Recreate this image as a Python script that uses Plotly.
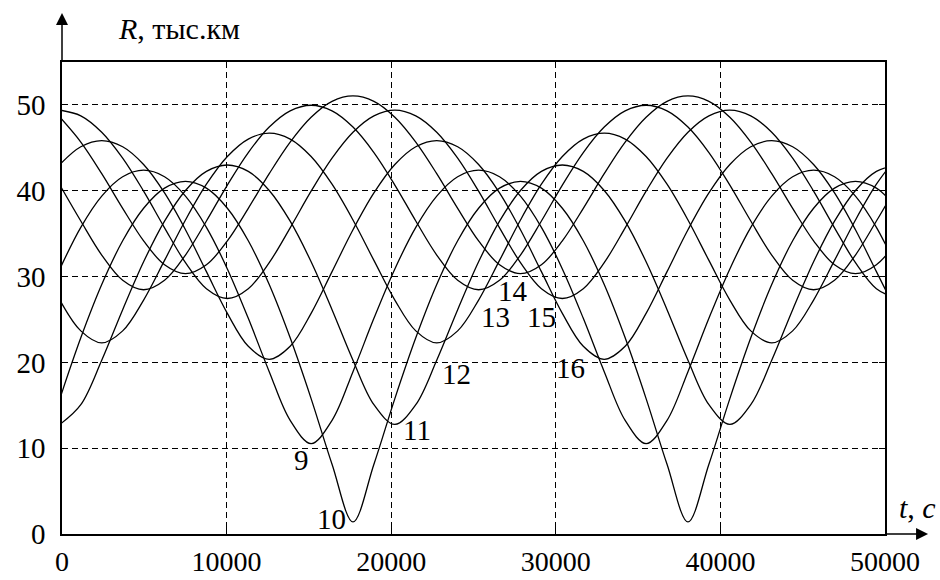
import plotly.graph_objects as go

# Sampling instants, s
t_s = [-130, 1142, 2414, 3686, 4958, 6230, 7502, 8774, 10046, 11318,
       12590, 13862, 15134, 16406, 17678, 18950, 20222, 21494, 22766, 24038,
       25310, 26582, 27854, 29126, 30398, 31670, 32942, 34214, 35486, 36758,
       38030, 39302, 40574, 41846, 43118, 44390, 45662, 46934, 48206, 49478,
       50750]

# Range R, thousand km, for each object
r9 = [30.89, 35.73, 39.37, 41.63, 42.39, 41.63, 39.37, 35.73, 30.89, 25.13,
      18.92, 13.24, 10.54, 13.24, 18.92, 25.13, 30.89, 35.73, 39.37, 41.63,
      42.39, 41.63, 39.37, 35.73, 30.89, 25.13, 18.92, 13.24, 10.54, 13.24,
      18.92, 25.13, 30.89, 35.73, 39.37, 41.63, 42.39, 41.63, 39.37, 35.73,
      30.89]
r10 = [15.78, 22.86, 29.07, 34.17, 37.96, 40.30, 41.09, 40.30, 37.96, 34.17,
       29.07, 22.86, 15.78, 8.13, 1.41, 8.13, 15.78, 22.86, 29.07, 34.17,
       37.96, 40.30, 41.09, 40.30, 37.96, 34.17, 29.07, 22.86, 15.78, 8.13,
       1.41, 8.13, 15.78, 22.86, 29.07, 34.17, 37.96, 40.30, 41.09, 40.30,
       37.96]
r11 = [12.77, 15.07, 20.25, 26.14, 31.72, 36.45, 40.03, 42.25, 43.00, 42.25,
       40.03, 36.45, 31.72, 26.14, 20.25, 15.07, 12.77, 15.07, 20.25, 26.14,
       31.72, 36.45, 40.03, 42.25, 43.00, 42.25, 40.03, 36.45, 31.72, 26.14,
       20.25, 15.07, 12.77, 15.07, 20.25, 26.14, 31.72, 36.45, 40.03, 42.25,
       43.00]
r12 = [27.26, 23.67, 22.27, 23.67, 27.26, 31.88, 36.59, 40.76, 43.99, 46.02,
       46.71, 46.02, 43.99, 40.76, 36.59, 31.88, 27.26, 23.67, 22.27, 23.67,
       27.26, 31.88, 36.59, 40.76, 43.99, 46.02, 46.71, 46.02, 43.99, 40.76,
       36.59, 31.88, 27.26, 23.67, 22.27, 23.67, 27.26, 31.88, 36.59, 40.76,
       43.99]
r13 = [40.66, 36.47, 32.51, 29.57, 28.46, 29.57, 32.51, 36.47, 40.66, 44.45,
       47.42, 49.31, 49.96, 49.31, 47.42, 44.45, 40.66, 36.47, 32.51, 29.57,
       28.46, 29.57, 32.51, 36.47, 40.66, 44.45, 47.42, 49.31, 49.96, 49.31,
       47.42, 44.45, 40.66, 36.47, 32.51, 29.57, 28.46, 29.57, 32.51, 36.47,
       40.66]
r14 = [48.57, 45.67, 41.99, 37.95, 34.16, 31.37, 30.33, 31.37, 34.16, 37.95,
       41.99, 45.67, 48.57, 50.42, 51.05, 50.42, 48.57, 45.67, 41.99, 37.95,
       34.16, 31.37, 30.33, 31.37, 34.16, 37.95, 41.99, 45.67, 48.57, 50.42,
       51.05, 50.42, 48.57, 45.67, 41.99, 37.95, 34.16, 31.37, 30.33, 31.37,
       34.16]
r15 = [49.39, 48.73, 46.82, 43.80, 39.95, 35.68, 31.62, 28.59, 27.44, 28.59,
       31.62, 35.68, 39.95, 43.80, 46.82, 48.73, 49.39, 48.73, 46.82, 43.80,
       39.95, 35.68, 31.62, 28.59, 27.44, 28.59, 31.62, 35.68, 39.95, 43.80,
       46.82, 48.73, 49.39, 48.73, 46.82, 43.80, 39.95, 35.68, 31.62, 28.59,
       27.44]
r16 = [43.05, 45.12, 45.83, 45.12, 43.05, 39.74, 35.45, 30.57, 25.71, 21.87,
       20.35, 21.87, 25.71, 30.57, 35.45, 39.74, 43.05, 45.12, 45.83, 45.12,
       43.05, 39.74, 35.45, 30.57, 25.71, 21.87, 20.35, 21.87, 25.71, 30.57,
       35.45, 39.74, 43.05, 45.12, 45.83, 45.12, 43.05, 39.74, 35.45, 30.57,
       25.71]

curve_names = ["9", "10", "11", "12", "13", "14", "15", "16"]
curve_values = [r9, r10, r11, r12, r13, r14, r15, r16]

x_ticks = [0, 10000, 20000, 30000, 40000, 50000]
x_tick_text = ["0", "10000", "20000", "30000", "40000", "50000"]
y_ticks = [0, 10, 20, 30, 40, 50]
y_tick_text = ["0", "10", "20", "30", "40", "50"]

# Where each curve number is written (t, R)
label_t = [14563, 16385, 21550, 23980, 26306, 27400, 29143, 30923]
label_r = [8.6, 1.8, 12.1, 18.7, 25.3, 28.3, 25.3, 19.3]

SERIF = "Liberation Serif, Times New Roman, serif"

fig = go.Figure()
for name, r in zip(curve_names, curve_values):
    fig.add_trace(go.Scatter(
        x=t_s, y=r, mode="lines", name=name, showlegend=False,
        hoverinfo="skip",
        line=dict(color="black", width=1.3, shape="spline"),
    ))

axis_common = dict(
    showgrid=True, gridcolor="black", gridwidth=1, griddash="6px,4px",
    showline=True, linecolor="black", linewidth=1.6, mirror="ticks",
    ticks="inside", ticklen=6, tickcolor="black", tickwidth=1.2,
    zeroline=False, automargin=False,
)

fig.update_xaxes(range=[0, 50000], tickvals=x_ticks, ticktext=x_tick_text,
                 ticklabelstandoff=2,
                 tickfont=dict(family=SERIF, size=28, color="black"),
                 **axis_common)
fig.update_yaxes(range=[0, 55], tickvals=y_ticks, ticktext=y_tick_text,
                 ticklabelstandoff=9,
                 tickfont=dict(family=SERIF, size=29, color="black"),
                 **axis_common)

annotations = []
for name, tx, ry in zip(curve_names, label_t, label_r):
    annotations.append(dict(
        x=tx, y=ry, xref="x", yref="y", text=name, showarrow=False,
        font=dict(family=SERIF, size=29, color="black"),
    ))

# axis arrows
annotations.append(dict(
    x=1.0523, y=0, xref="paper", yref="paper", text="", showarrow=True,
    ax=-43, ay=0, arrowhead=2, arrowsize=1.6, arrowwidth=1.5,
    arrowcolor="black", standoff=0,
))
annotations.append(dict(
    x=0, y=1.1038, xref="paper", yref="paper", text="", showarrow=True,
    ax=0, ay=49, arrowhead=2, arrowsize=1.6, arrowwidth=1.5,
    arrowcolor="black", standoff=0,
))

# axis captions
annotations.append(dict(
    x=0.1422, y=1.072, xref="paper", yref="paper",
    xanchor="center", yanchor="middle",
    text="<i>R</i>, тыс.км", showarrow=False,
    font=dict(family=SERIF, size=30, color="black"),
))
annotations.append(dict(
    x=1.039, y=0.0572, xref="paper", yref="paper",
    xanchor="center", yanchor="middle",
    text="<i>t</i>, <i>c</i>", showarrow=False,
    font=dict(family=SERIF, size=30, color="black"),
))

fig.update_layout(
    width=940, height=580,
    margin=dict(l=62, r=55, t=62, b=46),
    paper_bgcolor="white", plot_bgcolor="white",
    annotations=annotations,
)

fig.write_html("out.html")
